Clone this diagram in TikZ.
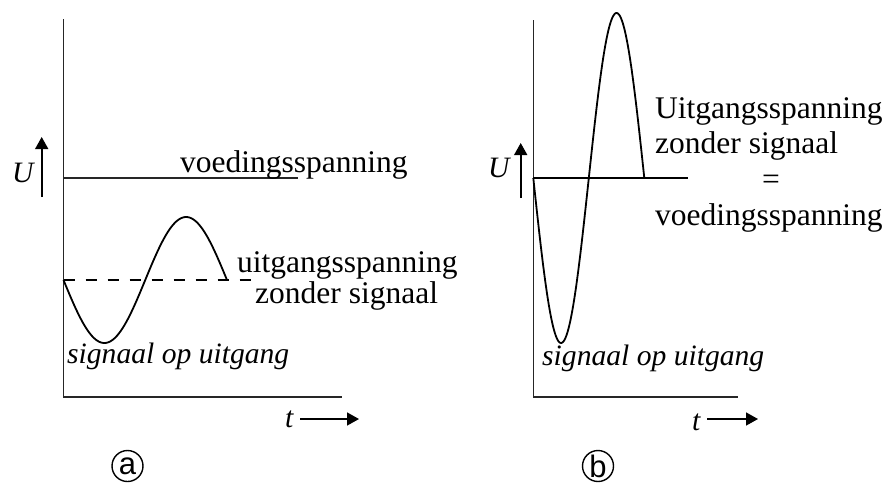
\documentclass[tikz,border=0pt]{standalone}
\usepackage{fontspec}
\setmainfont{Liberation Serif}
\newfontfamily\sansf{Liberation Sans}
\usetikzlibrary{arrows.meta}
\begin{document}
\begin{tikzpicture}[x=1pt,y=-1pt,
  axis/.style={line width=1.4pt, draw=black!85},
  curve/.style={line width=1.8pt},
  lbl/.style={inner sep=0pt, anchor=base west, font=\fontsize{31.5}{36}\selectfont},
  ilbl/.style={inner sep=0pt, anchor=base west, font=\fontsize{29.6}{34}\selectfont\itshape},
  arr/.style={line width=1.6pt, -{Triangle[length=12pt,width=13pt]}},
  circ/.style={circle, draw, line width=1.4pt, minimum size=31pt, inner sep=0pt, font=\fontsize{31}{31}\sansf}
]
\useasboundingbox (0,0) rectangle (885,483);

% ---------- panel a ----------
\coordinate (aTop) at (63.5,19);
\coordinate (aO) at (63.5,397);
\coordinate (aEnd) at (342,397);
\draw[axis] (aTop) -- (aO) -- (aEnd);
\coordinate (aV1) at (63.5,178);
\coordinate (aV2) at (298,178);
\draw[axis] (aV1) -- (aV2);
\coordinate (aD1) at (63.5,280);
\coordinate (aD2) at (253,280);
\draw[curve, dash pattern=on 11pt off 11pt] (aD1) -- (aD2);
\draw[curve] plot[domain=0:360, samples=120, smooth] ({63.5+0.454167*\x}, {280+63*sin(\x)});
\coordinate (aU1) at (41.7,197);
\coordinate (aU2) at (41.7,137);
\draw[arr] (aU1) -- (aU2);
\node[ilbl] (aUl) at (12,182) {U};
\node[lbl] (aVl) at (180,172) {voedingsspanning};
\node[lbl] (aUit) at (237,272) {uitgangsspanning};
\node[lbl] (aZon) at (255,303) {zonder signaal};
\node[ilbl] (aSig) at (67,363) {signaal op uitgang};
\node[ilbl] (aT) at (285,427) {t};
\coordinate (aT1) at (300,419);
\coordinate (aT2) at (359,419);
\draw[arr] (aT1) -- (aT2);
\node[circ] (aLab) at (127.5,466) {a};

% ---------- panel b ----------
\coordinate (bTop) at (533.3,20);
\coordinate (bO) at (533.3,397);
\coordinate (bEnd) at (738,397);
\draw[axis] (bTop) -- (bO) -- (bEnd);
\coordinate (bV1) at (533.3,178);
\coordinate (bV2) at (688,178);
\draw[curve] (bV1) -- (bV2);
\draw[curve] plot[domain=0:360, samples=150, smooth] ({533.3+0.308333*\x}, {178+165*sin(\x)});
\coordinate (bU1) at (520.7,198);
\coordinate (bU2) at (520.7,143);
\draw[arr] (bU1) -- (bU2);
\node[ilbl] (bUl) at (488,177) {U};
\node[lbl] (bUit) at (655,118) {Uitgangsspanning};
\node[lbl] (bZon) at (655,153) {zonder signaal};
\node[lbl, anchor=base] (bEq) at (771,189) {=};
\node[lbl] (bVl) at (655,225) {voedingsspanning};
\node[ilbl] (bSig) at (542,365) {signaal op uitgang};
\node[ilbl] (bT) at (692,430) {t};
\coordinate (bT1) at (707,419);
\coordinate (bT2) at (758,419);
\draw[arr] (bT1) -- (bT2);
\node[circ] (bLab) at (598,466) {b};
\end{tikzpicture}
\end{document}
